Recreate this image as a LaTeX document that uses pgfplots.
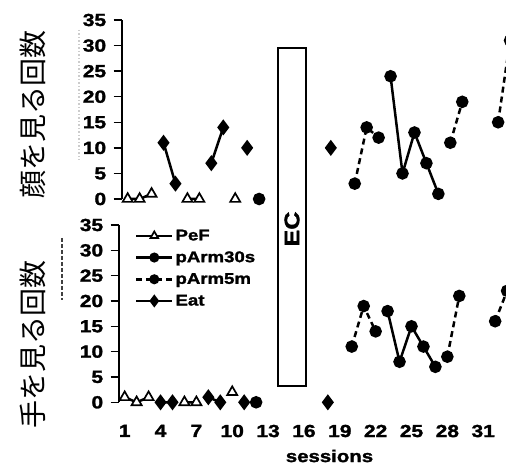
\documentclass[border=0pt]{standalone}
\usepackage{fontspec}
\usepackage{pgfplots}
\pgfplotsset{compat=1.18}
\setmainfont{Liberation Sans}
\newfontfamily\wide{Liberation Sans}[FakeStretch=1.2, BoldFeatures={FakeBold=1.6}]
\newfontfamily\jp{Noto Sans CJK JP}

\pgfplotsset{
  panel/.style={
    scale only axis, clip=false,
    xmin=0.5, ymin=0, ymax=35,
    axis lines*=left,
    x axis line style={draw=none},
    y axis line style={line width=1.8pt},
    xtick style={draw=none},
    ytick style={line width=1.5pt, black},
    tick align=outside, major tick length=8pt,
    ytick={0,5,...,35},
    unbounded coords=jump,
    /pgf/number format/assume math mode=true,
    tick label style={font=\wide\bfseries\fontsize{17.5}{17.5}\selectfont},
    yticklabel style={xshift=-4pt},
    xticklabel style={yshift=-11pt},
  },
  pef/.style={black, line width=2.5pt, mark=triangle*, mark size=5.8pt,
    mark options={fill=white, line width=1.7pt, solid}},
  p30/.style={black, line width=2.5pt, mark=*, mark size=5pt, mark options={solid}},
  p5/.style={black, line width=2.5pt, dash pattern=on 6pt off 4pt, mark=*, mark size=5pt,
    mark options={solid}},
  eat/.style={black, line width=2.5pt, mark=diamond*, mark size=6pt, mark options={solid}},
}

\begin{document}
\begin{tikzpicture}
\useasboundingbox (0pt,0pt) rectangle (506pt,468pt);
\clip (0pt,0pt) rectangle (506pt,468pt);

% top panel: looking at the face
\begin{axis}[panel, at={(121.7pt,269pt)}, anchor=south west,
  width=384.3pt, height=179pt, xmax=32.66, xtick=\empty]
  \addplot[pef] coordinates {(1,0) (2,0) (3,1) (4,nan) (6,0) (7,0) (8,nan) (10,0)};
  \addplot[p30] coordinates {(12,0) (13,nan) (23,24) (24,5) (25,13) (26,7) (27,1)};
  \addplot[p5] coordinates {(20,3) (21,14) (22,12) (23,nan) (28,11) (29,19) (30,nan) (32,15) (33,31)};
  \addplot[eat] coordinates {(4,11) (5,3) (6,nan) (8,7) (9,14) (10,nan) (11,10) (12,nan) (18,10)};
\end{axis}

% bottom panel: looking at the hand
\begin{axis}[panel, at={(118.7pt,65.7pt)}, anchor=south west,
  width=387.2pt, height=177.3pt, xmax=32.9,
  xtick={1,4,...,31},
  legend style={at={(axis cs:1.6,34.9)}, anchor=north west, draw=none, fill=none,
    font=\wide\bfseries\fontsize{15.5}{15.5}\selectfont, row sep=5.5pt},
  legend cell align=left,
  legend image code/.code={
    \draw[mark repeat=2, mark phase=2, #1] plot coordinates {(0pt,0pt) (18pt,0pt) (36pt,0pt)};},
  legend image post style={every mark/.append style={scale=0.75}},
]
  \addplot[pef] coordinates {(1,1) (2,0) (3,1) (4,nan) (6,0) (7,0) (8,nan) (10,2)};
  \addlegendentry{PeF}
  \addplot[p30] coordinates {(12,0) (13,nan) (23,18) (24,8) (25,15) (26,11) (27,7)};
  \addlegendentry{pArm30s}
  \addplot[p5] coordinates {(20,11) (21,19) (22,14) (23,nan) (28,9) (29,21) (30,nan) (32,16) (33,22)};
  \addlegendentry{pArm5m}
  \addplot[eat] coordinates {(4,0) (5,0) (6,nan) (8,1) (9,0) (10,nan) (11,0) (12,nan) (18,0)};
  \addlegendentry{Eat}
\end{axis}

% EC phase box across both panels
\draw[line width=1.8pt, fill=white] (277.7pt,82pt) rectangle (306pt,420.3pt);
\node[rotate=90, font=\wide\bfseries\fontsize{21}{21}\selectfont] at (292pt,239pt) {EC};

\node[rotate=90, font=\jp\fontsize{28}{28}\selectfont] at (33pt,353pt) {顔を見る回数};
\node[rotate=90, font=\jp\fontsize{28}{28}\selectfont] at (33pt,123pt) {手を見る回数};
\node[font=\wide\bfseries\fontsize{17}{17}\selectfont] at (329.5pt,12pt) {sessions};

% leftovers of the cropped source figure
\draw[dash pattern=on 4pt off 2pt, line width=1.2pt, black!75] (62pt,230pt) -- (62pt,168pt);
\draw[dotted, line width=1.5pt, black!20] (79pt,438pt) -- (79pt,308pt);
\end{tikzpicture}
\end{document}
